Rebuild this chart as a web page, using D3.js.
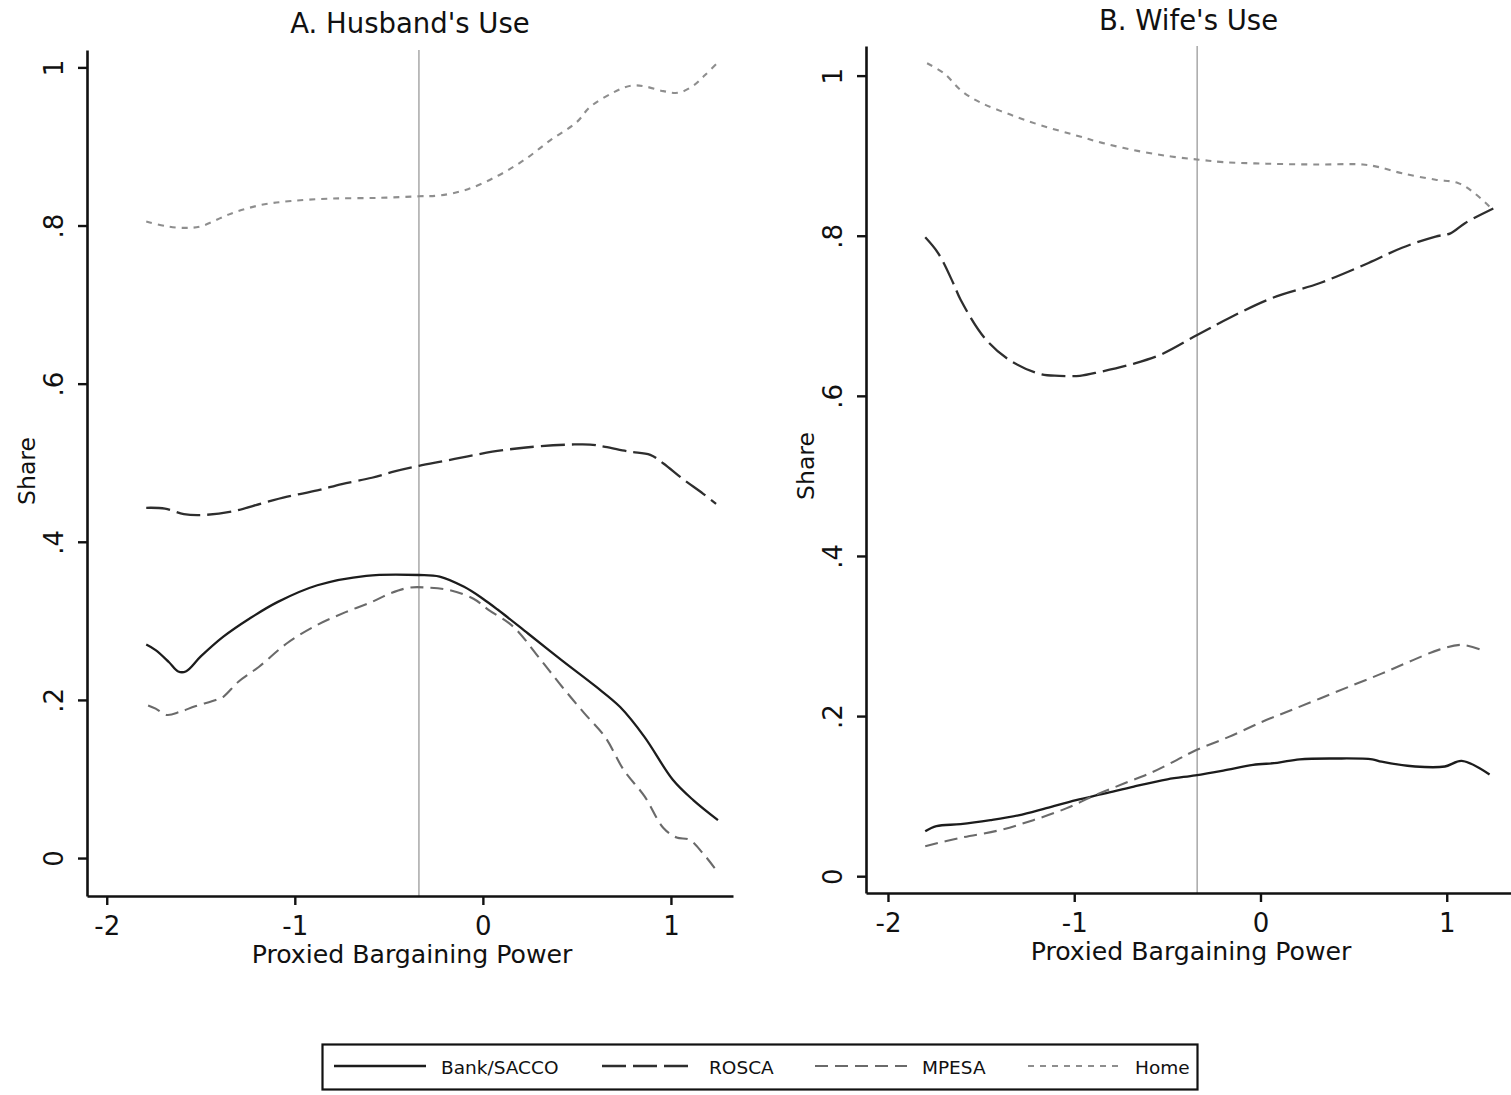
<!DOCTYPE html>
<html>
<head>
<meta charset="utf-8">
<script src="https://cdn.jsdelivr.net/npm/d3@7"></script>
<style>
  body { margin: 0; background: #fff; }
  svg { display: block; font-family: "DejaVu Sans", Verdana, sans-serif; }
</style>
</head>
<body>
<script>
// ticks and labels
const xTicks = [-2, -1, 0, 1];
const yTicks = [0, 0.2, 0.4, 0.6, 0.8, 1];
const seriesNames = ["Bank/SACCO", "ROSCA", "MPESA", "Home"];
const panelTitles = ["A. Husband's Use", "B. Wife's Use"];
const xTitle = "Proxied Bargaining Power";
const yTitle = "Share";
const cutoff = -0.34;

// A. husband's use: [bargaining power, share]
const husbandBank = [
  [-1.79, 0.270], [-1.74, 0.263], [-1.67, 0.248], [-1.62, 0.236], [-1.58, 0.236],
  [-1.50, 0.255], [-1.38, 0.280], [-1.24, 0.303], [-1.09, 0.324], [-0.88, 0.345],
  [-0.62, 0.357], [-0.34, 0.358], [-0.23, 0.356], [-0.10, 0.343], [0.00, 0.328],
  [0.08, 0.314], [0.24, 0.284], [0.42, 0.250], [0.60, 0.217], [0.73, 0.191],
  [0.86, 0.153], [1.01, 0.099], [1.12, 0.073], [1.25, 0.048]
];
const husbandRosca = [
  [-1.79, 0.443], [-1.69, 0.442], [-1.59, 0.435], [-1.48, 0.434], [-1.32, 0.439],
  [-1.17, 0.449], [-1.04, 0.457], [-0.88, 0.465], [-0.75, 0.473], [-0.59, 0.481],
  [-0.47, 0.489], [-0.34, 0.496], [-0.21, 0.502], [-0.08, 0.508], [0.05, 0.514],
  [0.18, 0.518], [0.31, 0.521], [0.47, 0.523], [0.57, 0.523], [0.65, 0.520],
  [0.78, 0.514], [0.89, 0.510], [0.96, 0.499], [1.06, 0.480], [1.17, 0.461],
  [1.24, 0.448]
];
const husbandMpesa = [
  [-1.78, 0.193], [-1.74, 0.189], [-1.68, 0.181], [-1.61, 0.185], [-1.53, 0.192],
  [-1.42, 0.200], [-1.38, 0.204], [-1.30, 0.223], [-1.19, 0.242], [-1.04, 0.272],
  [-0.88, 0.295], [-0.73, 0.311], [-0.59, 0.324], [-0.49, 0.335], [-0.39, 0.342],
  [-0.29, 0.342], [-0.18, 0.339], [-0.05, 0.328], [0.03, 0.314], [0.16, 0.293],
  [0.31, 0.250], [0.42, 0.217], [0.54, 0.183], [0.65, 0.153], [0.75, 0.111],
  [0.86, 0.078], [0.96, 0.038], [1.03, 0.026], [1.10, 0.023], [1.17, 0.006],
  [1.24, -0.015]
];
const husbandHome = [
  [-1.79, 0.805], [-1.68, 0.799], [-1.58, 0.797], [-1.50, 0.799], [-1.34, 0.815],
  [-1.18, 0.826], [-1.02, 0.831], [-0.81, 0.834], [-0.55, 0.835], [-0.34, 0.837],
  [-0.23, 0.838], [-0.08, 0.846], [0.08, 0.863], [0.22, 0.883], [0.36, 0.908],
  [0.50, 0.931], [0.57, 0.950], [0.70, 0.969], [0.79, 0.977], [0.86, 0.976],
  [0.96, 0.970], [1.04, 0.968], [1.12, 0.977], [1.18, 0.990], [1.24, 1.004]
];

// B. wife's use
const wifeBank = [
  [-1.80, 0.056], [-1.74, 0.0625], [-1.61, 0.065], [-1.45, 0.070], [-1.30, 0.076],
  [-1.15, 0.085], [-0.99, 0.095], [-0.84, 0.103], [-0.68, 0.112], [-0.50, 0.121],
  [-0.35, 0.126], [-0.20, 0.132], [-0.04, 0.139], [0.09, 0.1416], [0.21, 0.146],
  [0.40, 0.147], [0.60, 0.146], [0.65, 0.143], [0.83, 0.137], [0.99, 0.137],
  [1.08, 0.144], [1.23, 0.127]
];
const wifeRosca = [
  [-1.80, 0.798], [-1.73, 0.778], [-1.65, 0.741], [-1.61, 0.720], [-1.48, 0.672],
  [-1.35, 0.645], [-1.18, 0.627], [-1.08, 0.625], [-0.97, 0.625], [-0.86, 0.630],
  [-0.70, 0.639], [-0.54, 0.651], [-0.34, 0.676], [-0.17, 0.697], [0.06, 0.722],
  [0.32, 0.741], [0.58, 0.766], [0.76, 0.785], [0.94, 0.799], [1.02, 0.803],
  [1.10, 0.816], [1.25, 0.834]
];
const wifeMpesa = [
  [-1.80, 0.0375], [-1.61, 0.048], [-1.40, 0.0575], [-1.22, 0.070], [-1.04, 0.085],
  [-0.89, 0.101], [-0.73, 0.116], [-0.58, 0.130], [-0.45, 0.145], [-0.35, 0.157],
  [-0.17, 0.174], [0.01, 0.193], [0.16, 0.207], [0.32, 0.222], [0.50, 0.239],
  [0.65, 0.253], [0.80, 0.268], [0.96, 0.283], [1.08, 0.289], [1.20, 0.2815]
];
const wifeHome = [
  [-1.79, 1.0155], [-1.70, 1.003], [-1.60, 0.980], [-1.50, 0.966], [-1.34, 0.951],
  [-1.18, 0.938], [-1.00, 0.926], [-0.85, 0.916], [-0.66, 0.906], [-0.48, 0.899],
  [-0.33, 0.895], [-0.20, 0.892], [0.03, 0.890], [0.29, 0.889], [0.55, 0.889],
  [0.63, 0.886], [0.76, 0.878], [0.94, 0.870], [1.06, 0.866], [1.15, 0.853],
  [1.24, 0.834]
];

// line look per series, same order as seriesNames
const styles = [
  { color: "#1c1c1c", width: 2.3, dash: null },
  { color: "#2e2e2e", width: 2.3, dash: "24,7" },
  { color: "#6a6a6a", width: 2.1, dash: "13,7" },
  { color: "#8e8e8e", width: 2.1, dash: "6,6" }
];

const width = 1511, height = 1095;
const svg = d3.select("body").append("svg")
  .attr("width", width)
  .attr("height", height);

const panels = [
  {
    title: panelTitles[0], series: [husbandBank, husbandRosca, husbandMpesa, husbandHome],
    left: 87, right: 733, top: 50, bottom: 896,
    xDomain: [-2.105, 1.33], yDomain: [-0.048, 1.022],
    titleY: 33, xTitleY: 963, yTitleX: 35, yTitleY: 471, xTitleX: 412
  },
  {
    title: panelTitles[1], series: [wifeBank, wifeRosca, wifeMpesa, wifeHome],
    left: 866, right: 1511, top: 46, bottom: 893,
    xDomain: [-2.118, 1.345], yDomain: [-0.021, 1.037],
    titleY: 30, xTitleY: 960, yTitleX: 814, yTitleY: 466, xTitleX: 1191
  }
];

const fmtY = d => (d === 0 || d === 1) ? String(d) : String(d).replace("0.", ".");

panels.forEach(p => {
  const x = d3.scaleLinear().domain(p.xDomain).range([p.left, p.right]);
  const y = d3.scaleLinear().domain(p.yDomain).range([p.bottom, p.top]);
  const g = svg.append("g");

  // cutoff marker
  g.append("line")
    .attr("x1", x(cutoff)).attr("x2", x(cutoff))
    .attr("y1", p.top).attr("y2", p.bottom)
    .attr("stroke", "#a8a8a8")
    .attr("stroke-width", 1.5);

  const line = d3.line()
    .x(d => x(d[0]))
    .y(d => y(d[1]))
    .curve(d3.curveCatmullRom.alpha(0.5));

  p.series.forEach((s, i) => {
    g.append("path")
      .datum(s)
      .attr("d", line)
      .attr("fill", "none")
      .attr("stroke", styles[i].color)
      .attr("stroke-width", styles[i].width)
      .attr("stroke-dasharray", styles[i].dash);
  });

  // axes
  const xAxis = g.append("g")
    .attr("transform", `translate(0,${p.bottom})`)
    .call(d3.axisBottom(x).tickValues(xTicks).tickSize(9).tickSizeOuter(0).tickFormat(d => String(d)));
  xAxis.selectAll("text")
    .attr("y", 39).attr("dy", 0)
    .attr("font-size", 26)
    .attr("font-family", "DejaVu Sans, sans-serif")
    .attr("fill", "#111");

  const yAxis = g.append("g")
    .attr("transform", `translate(${p.left},0)`)
    .call(d3.axisLeft(y).tickValues(yTicks).tickSize(9).tickSizeOuter(0).tickFormat(fmtY));
  yAxis.selectAll("text")
    .attr("transform", "rotate(-90)")
    .attr("x", 0).attr("y", -24).attr("dy", 0)
    .attr("text-anchor", "middle")
    .attr("font-size", 26)
    .attr("font-family", "DejaVu Sans, sans-serif")
    .attr("fill", "#111");

  [xAxis, yAxis].forEach(a => {
    a.select(".domain").attr("stroke", "#111").attr("stroke-width", 2.6);
    a.selectAll(".tick line").attr("stroke", "#111").attr("stroke-width", 2.4);
  });

  // titles
  g.append("text")
    .attr("x", (p.left + p.right) / 2)
    .attr("y", p.titleY)
    .attr("text-anchor", "middle")
    .attr("font-size", 27.5)
    .attr("fill", "#111")
    .text(p.title);

  g.append("text")
    .attr("x", p.xTitleX)
    .attr("y", p.xTitleY)
    .attr("text-anchor", "middle")
    .attr("font-size", 25.2)
    .attr("fill", "#111")
    .text(xTitle);

  g.append("text")
    .attr("transform", `translate(${p.yTitleX},${p.yTitleY}) rotate(-90)`)
    .attr("text-anchor", "middle")
    .attr("font-size", 23.5)
    .attr("fill", "#111")
    .text(yTitle);
});

// legend
const legend = svg.append("g");
legend.append("rect")
  .attr("x", 322.5).attr("y", 1044.5)
  .attr("width", 875).attr("height", 45)
  .attr("fill", "#fff")
  .attr("stroke", "#111")
  .attr("stroke-width", 2.2);

const legendX = [334, 602, 815, 1028];
seriesNames.forEach((name, i) => {
  const lx = legendX[i];
  legend.append("line")
    .attr("x1", lx).attr("x2", lx + 92)
    .attr("y1", 1066).attr("y2", 1066)
    .attr("stroke", styles[i].color)
    .attr("stroke-width", styles[i].width)
    .attr("stroke-dasharray", styles[i].dash);
  legend.append("text")
    .attr("x", lx + 107)
    .attr("y", 1074)
    .attr("font-size", 18.5)
    .attr("fill", "#111")
    .text(name);
});
</script>
</body>
</html>
